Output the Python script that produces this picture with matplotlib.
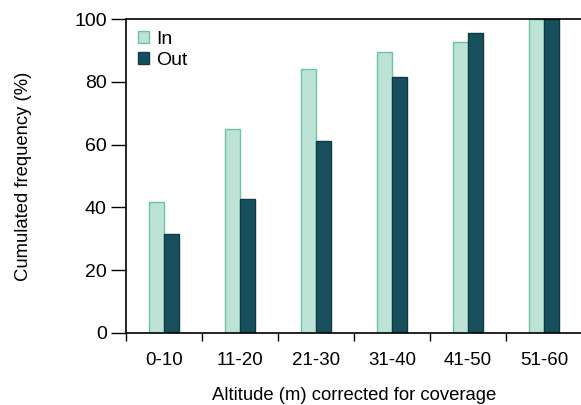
import numpy as np
import matplotlib.pyplot as plt

plt.rcParams['font.family'] = ['Liberation Sans', 'DejaVu Sans']

categories = ['0-10', '11-20', '21-30', '31-40', '41-50', '51-60']
freq_in = [41.7, 65.0, 84.1, 89.6, 92.7, 100.0]
freq_out = [31.5, 42.6, 61.0, 81.6, 95.5, 100.0]

fig = plt.figure(figsize=(5.81, 4.05), dpi=100)
ax = fig.add_axes([0.217, 0.178, 0.785, 0.775])

x = np.arange(len(categories)) + 0.5
w = 0.2
ax.bar(x - w / 2, freq_in, w, color='#bde3d6', edgecolor='#6cc4a4', linewidth=1, label='In')
ax.bar(x + w / 2, freq_out, w, color='#174f5c', edgecolor='#0f3a45', linewidth=1, label='Out')

ax.set_xlim(0, len(categories))
ax.set_ylim(0, 100)
ax.set_xticks(np.arange(len(categories)))
ax.set_xticklabels([])
ax.set_xticks(x, minor=True)
ax.set_xticklabels(categories, minor=True)
ax.tick_params(axis='x', which='minor', length=0, labelsize=13.5, pad=14)
ax.tick_params(axis='x', which='major', length=6, width=1)
ax.set_yticks([0, 20, 40, 60, 80, 100])
ax.tick_params(axis='y', length=11, width=1, labelsize=14, pad=3)

ax.spines['right'].set_visible(False)
for s in ['left', 'bottom', 'top']:
    ax.spines[s].set_linewidth(1.2)

ax.set_xlabel('Altitude (m) corrected for coverage', fontsize=13.3, labelpad=13)
ax.set_ylabel('Cumulated frequency (%)', fontsize=13.3, labelpad=30)

ax.legend(loc='upper left', frameon=False, fontsize=14, handlelength=0.6,
          handleheight=0.6, handletextpad=0.35, labelspacing=0.2,
          borderaxespad=0.2, bbox_to_anchor=(0.0, 1.0))

fig.savefig('out.png', dpi=100)
